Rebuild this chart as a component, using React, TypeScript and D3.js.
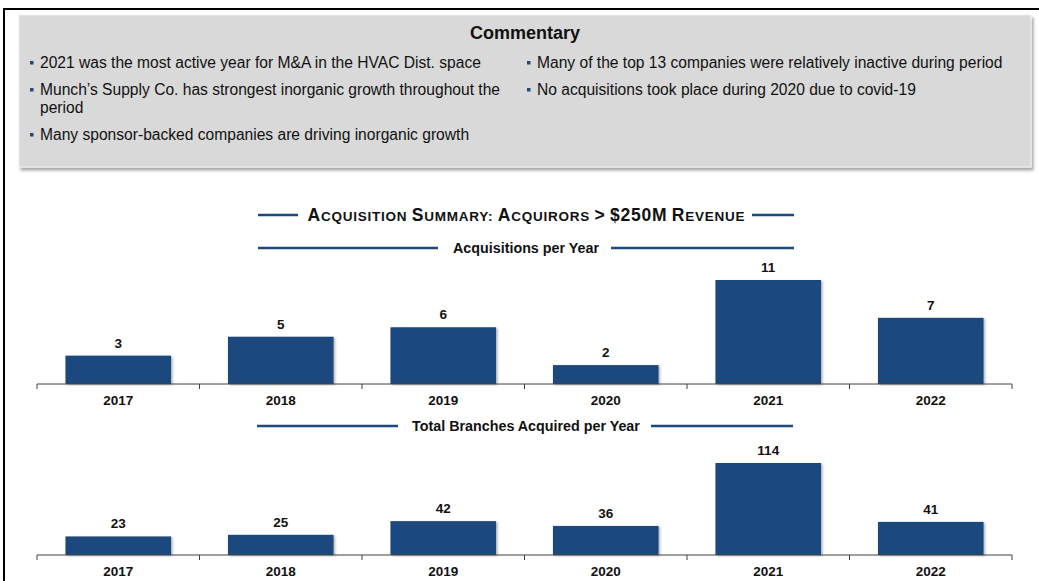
import React from "react";
import * as d3 from "d3";

const years = ["2017", "2018", "2019", "2020", "2021", "2022"];
const acquisitions = [3, 5, 6, 2, 11, 7];
const branches = [23, 25, 42, 36, 114, 41];

const commentaryLeft = [
  ["2021 was the most active year for M&A in the HVAC Dist. space"],
  ["Munch\u2019s Supply Co. has strongest inorganic growth throughout the", "period"],
  ["Many sponsor-backed companies are driving inorganic growth"],
];
const commentaryRight = [
  ["Many of the top 13 companies were relatively inactive during period"],
  ["No acquisitions took place during 2020 due to covid-19"],
];

const W = 1039;
const H = 581;
const navy = "#1f497d";
const font = "'Liberation Sans', Arial, sans-serif";

const x = d3.scaleBand().domain(years).range([37, 1012]).paddingInner(0.35).paddingOuter(0.175);

// title made of small caps by hand: caps big, the rest small
const titleWords = ["Acquisition", "Summary:", "Acquirors", ">", "$250M", "Revenue"];

const SmallCaps = ({ cx, y }) => {
  const parts = [];
  titleWords.forEach((w, i) => {
    if (i > 0) parts.push({ t: " ", big: false });
    parts.push({ t: w[0], big: true });
    const rest = w.slice(1);
    // words like $250M keep their digits big
    if (/[0-9]/.test(rest)) parts.push({ t: rest, big: true });
    else if (rest) parts.push({ t: rest.toUpperCase(), big: false });
  });
  return (
    <text
      x={cx}
      y={y}
      textAnchor="middle"
      fontFamily={font}
      fontWeight="bold"
      fill="#111"
      textLength={437}
      lengthAdjust="spacing"
    >
      {parts.map((p, i) => (
        <tspan key={i} fontSize={p.big ? 17.5 : 13.5}>{p.t}</tspan>
      ))}
    </text>
  );
};

const BarPanel = ({ values, baseY, topY, title, titleY, lineL, lineR }) => {
  const y = d3.scaleLinear().domain([0, d3.max(values)]).range([baseY, topY]);
  const step = x.step();
  const [r0, r1] = x.range();
  const bounds = d3.range(years.length + 1).map((i) => r0 + i * step);
  return (
    <g>
      <line x1={lineL[0]} x2={lineL[1]} y1={titleY} y2={titleY} stroke={navy} strokeWidth={2.5} />
      <line x1={lineR[0]} x2={lineR[1]} y1={titleY} y2={titleY} stroke={navy} strokeWidth={2.5} />
      <text x={526} y={titleY + 5} textAnchor="middle" fontFamily={font} fontWeight="bold" fontSize={14.3} fill="#111">
        {title}
      </text>
      {values.map((v, i) => (
        <g key={years[i]}>
          <rect
            x={x(years[i])}
            y={y(v)}
            width={x.bandwidth()}
            height={baseY - y(v)}
            fill={navy}
            filter="url(#barShadow)"
          />
          <text
            x={x(years[i]) + x.bandwidth() / 2}
            y={y(v) - 8}
            textAnchor="middle"
            fontFamily={font}
            fontWeight="bold"
            fontSize={13.5}
            fill="#111"
          >
            {v}
          </text>
          <text
            x={x(years[i]) + x.bandwidth() / 2}
            y={baseY + 21}
            textAnchor="middle"
            fontFamily={font}
            fontWeight="bold"
            fontSize={13.5}
            fill="#111"
          >
            {years[i]}
          </text>
        </g>
      ))}
      <line x1={r0} x2={r1} y1={baseY} y2={baseY} stroke="#404040" strokeWidth={1} />
      {bounds.map((b, i) => (
        <line key={i} x1={b} x2={b} y1={baseY} y2={baseY + 5} stroke="#404040" strokeWidth={1} />
      ))}
    </g>
  );
};

const Bullets = ({ items, bx, y0, gaps }) => {
  let yy = y0;
  const out = [];
  items.forEach((lines, i) => {
    if (i > 0) yy += gaps;
    out.push(<rect key={"b" + i} x={bx} y={yy - 7} width={3.5} height={3.5} fill={navy} />);
    lines.forEach((ln, j) => {
      out.push(
        <text key={"t" + i + j} x={bx + 10} y={yy + j * 18} fontFamily={font} fontSize={15.6} fill="#111">
          {ln}
        </text>
      );
    });
    yy += (lines.length - 1) * 18;
  });
  return <g>{out}</g>;
};

export default function App() {
  return (
    <svg width={W} height={H} style={{ position: "absolute", left: 0, top: 0, background: "#fff" }}>
      <defs>
        <filter id="boxShadow" x="-5%" y="-10%" width="110%" height="130%">
          <feDropShadow dx={2} dy={3} stdDeviation={1.5} floodColor="#000" floodOpacity={0.35} />
        </filter>
        <filter id="barShadow" x="-10%" y="-10%" width="125%" height="125%">
          <feDropShadow dx={1.5} dy={1} stdDeviation={1} floodColor="#000" floodOpacity={0.3} />
        </filter>
      </defs>
      {/* outer frame */}
      <line x1={4} x2={W} y1={9} y2={9} stroke="#000" strokeWidth={2} />
      <line x1={4} x2={4} y1={8} y2={H} stroke="#000" strokeWidth={2} />

      {/* commentary box */}
      <rect x={19} y={15} width={1012} height={152} fill="#d9d9d9" stroke="#f0f0f0" strokeWidth={1} filter="url(#boxShadow)" />
      <text x={525} y={39} textAnchor="middle" fontFamily={font} fontWeight="bold" fontSize={18} fill="#111">
        Commentary
      </text>
      <Bullets items={commentaryLeft} bx={30} y0={68} gaps={27} />
      <Bullets items={commentaryRight} bx={527} y0={68} gaps={27} />

      {/* chart title */}
      <line x1={258} x2={298} y1={215} y2={215} stroke={navy} strokeWidth={2.5} />
      <line x1={752} x2={794} y1={215} y2={215} stroke={navy} strokeWidth={2.5} />
      <SmallCaps cx={526} y={221} />

      <BarPanel
        values={acquisitions}
        baseY={384}
        topY={280}
        title="Acquisitions per Year"
        titleY={248}
        lineL={[258, 438]}
        lineR={[611, 794]}
      />
      <BarPanel
        values={branches}
        baseY={555}
        topY={463}
        title="Total Branches Acquired per Year"
        titleY={426}
        lineL={[257, 398]}
        lineR={[651, 793]}
      />
    </svg>
  );
}
